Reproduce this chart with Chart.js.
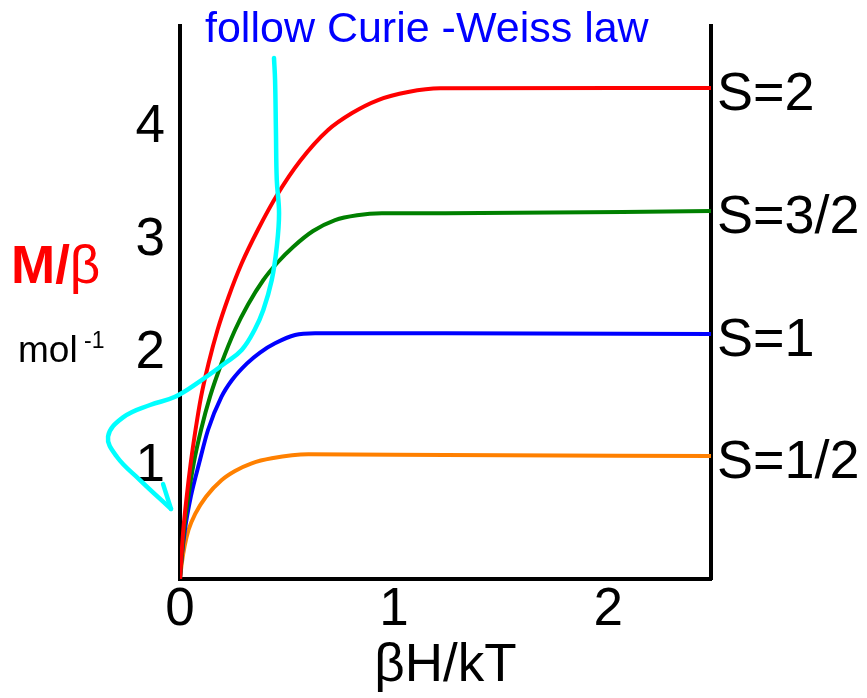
<!DOCTYPE html>
<html>
<head>
<meta charset="utf-8">
<script src="https://cdn.jsdelivr.net/npm/chart.js@4.4.1/dist/chart.umd.min.js"></script>
<style>
  html, body { margin: 0; padding: 0; background: #fff; }
  #chart { display: block; }
</style>
</head>
<body>
<canvas id="chart" width="867" height="698"></canvas>
<script>
// Данные: x = βH/kT, y = M/β
let xTicks = [0, 1, 2];
let yTicks = [1, 2, 3, 4];
let seriesNames = ['S=2', 'S=3/2', 'S=1', 'S=1/2'];
let seriesColors = ['#ff0000', '#008000', '#0000ff', '#ff8000'];

let s2X = [0, 0.0047, 0.0154, 0.0313, 0.05, 0.0724, 0.0981, 0.1332, 0.1752, 0.2266, 0.2883, 0.3645, 0.4533, 0.5607, 0.6916, 0.8037, 0.9252, 1.0654, 1.215, 2.48];
let s2Y = [0, 0.1416, 0.4336, 0.7283, 1.0239, 1.3186, 1.6106, 1.9071, 2.2035, 2.4956, 2.7938, 3.0929, 3.3982, 3.6991, 3.9735, 4.1239, 4.2389, 4.3097, 4.3425, 4.345];

let s32X = [0, 0.0056, 0.0187, 0.0388, 0.064, 0.0981, 0.1402, 0.1939, 0.257, 0.3178, 0.3893, 0.4556, 0.5294, 0.6215, 0.7243, 0.8271, 0.9425, 1.2383, 2.48];
let s32Y = [0, 0.1389, 0.4336, 0.7283, 1.0239, 1.3186, 1.6133, 1.9088, 2.2035, 2.4292, 2.646, 2.8009, 2.9407, 3.0796, 3.177, 3.2195, 3.2363, 3.2363, 3.2566];

let s1X = [0, 0.0051, 0.0229, 0.0505, 0.0893, 0.1308, 0.1939, 0.243, 0.3131, 0.3738, 0.4439, 0.5374, 0.6308, 1.2383, 2.48];
let s1Y = [0, 0.1389, 0.4336, 0.7283, 1.0239, 1.3186, 1.6133, 1.7611, 1.9088, 2.0044, 2.0858, 2.1593, 2.1743, 2.1743, 2.1681];

let s12X = [0, 0.0084, 0.021, 0.0397, 0.0724, 0.1215, 0.1949, 0.257, 0.335, 0.4285, 0.5995, 1.2383, 2.48];
let s12Y = [0, 0.1389, 0.2858, 0.4336, 0.5814, 0.7283, 0.8761, 0.9558, 1.0239, 1.0681, 1.1035, 1.0973, 1.0885];

// голубая стрелка "follow Curie -Weiss law"
let curieX = [0.439, 0.444, 0.448, 0.452, 0.4626, 0.452, 0.4285, 0.389, 0.348, 0.288, 0.21, 0.101, -0.023, -0.14, -0.266, -0.336, -0.294, -0.187, -0.042];
let curieY = [4.611, 4.416, 3.973, 3.531, 3.236, 2.941, 2.646, 2.381, 2.204, 2.027, 1.909, 1.761, 1.613, 1.54, 1.43, 1.26, 1.08, 0.876, 0.62];
let arrowHeadX = [-0.042, -0.079];
let arrowHeadY = [0.62, 0.84];

let seriesX = [s2X, s32X, s1X, s12X];
let seriesY = [s2Y, s32Y, s1Y, s12Y];

let fontFamily = '"Liberation Sans", Arial, sans-serif';

let toPoints = (xs, ys) => xs.map((x, i) => ({x: x, y: ys[i]}));

let datasets = [
  {
    data: toPoints(curieX, curieY),
    borderColor: '#00ffff',
    borderWidth: 4.5,
    tension: 0.4,
    borderCapStyle: 'round',
    borderJoinStyle: 'round',
    clip: false
  },
  {
    data: toPoints(arrowHeadX, arrowHeadY),
    borderColor: '#00ffff',
    borderWidth: 4.5,
    tension: 0,
    borderCapStyle: 'round',
    clip: false
  }
];
seriesNames.forEach((name, i) => {
  datasets.push({
    label: name,
    data: toPoints(seriesX[i], seriesY[i]),
    borderColor: seriesColors[i],
    borderWidth: 4,
    cubicInterpolationMode: 'monotone'
  });
});

// подписи на графике
let textPlugin = {
  id: 'textPlugin',
  afterDraw(chart) {
    let ctx = chart.ctx;
    let area = chart.chartArea;
    let yScale = chart.scales.y;
    ctx.save();
    ctx.textAlign = 'left';
    ctx.textBaseline = 'alphabetic';

    ctx.fillStyle = '#000';
    ctx.font = '54px ' + fontFamily;
    seriesNames.forEach((name, i) => {
      let ys = seriesY[i];
      ctx.fillText(name, area.right + 6, yScale.getPixelForValue(ys[ys.length - 1]) + 22);
    });

    ctx.fillStyle = '#0000ff';
    ctx.font = '43px ' + fontFamily;
    ctx.fillText('follow Curie -Weiss law', 205, 42);

    // M/ жирным, β обычным
    ctx.fillStyle = '#ff0000';
    ctx.font = 'bold 53px ' + fontFamily;
    ctx.fillText('M/', 11, 283);
    let mw = ctx.measureText('M/').width;
    ctx.font = '53px ' + fontFamily;
    ctx.fillText('β', 11 + mw, 283);

    ctx.fillStyle = '#000';
    ctx.font = '37px ' + fontFamily;
    ctx.fillText('mol', 18, 362);
    ctx.font = '23px ' + fontFamily;
    ctx.fillText('-1', 84, 348);
    ctx.restore();
  }
};

let noGrid = {display: false, drawTicks: false};
let blackBorder = {display: true, color: '#000', width: 4};

let config = {
  type: 'line',
  data: {datasets: datasets},
  options: {
    responsive: false,
    animation: false,
    devicePixelRatio: 1,
    layout: {padding: {top: 26, left: 0, right: 0, bottom: 0}},
    elements: {point: {radius: 0}, line: {fill: false}},
    scales: {
      x: {
        type: 'linear',
        min: 0,
        max: 2.48,
        grid: noGrid,
        border: blackBorder,
        afterBuildTicks: (s) => { s.ticks = xTicks.map(v => ({value: v})); },
        afterFit: (s) => { s.height = 119; s.paddingLeft = 0; s.paddingRight = 0; },
        ticks: {
          color: '#000',
          padding: 0,
          maxRotation: 0,
          font: {family: fontFamily, size: 53}
        },
        title: {
          display: true,
          text: 'βH/kT',
          color: '#000',
          padding: {top: 0, bottom: 0},
          font: {family: fontFamily, size: 53, lineHeight: 1.2}
        }
      },
      y: {
        type: 'linear',
        min: 0,
        max: 4.894,
        grid: noGrid,
        border: blackBorder,
        afterBuildTicks: (s) => { s.ticks = yTicks.map(v => ({value: v})); },
        afterFit: (s) => { s.width = 180; s.paddingTop = 0; s.paddingBottom = 0; },
        ticks: {
          color: '#000',
          padding: 15,
          font: {family: fontFamily, size: 53}
        }
      },
      y2: {
        type: 'linear',
        position: 'right',
        min: 0,
        max: 4.894,
        grid: noGrid,
        border: blackBorder,
        ticks: {display: false},
        afterFit: (s) => { s.width = 156; s.paddingTop = 0; s.paddingBottom = 0; }
      }
    },
    plugins: {
      legend: {display: false},
      tooltip: {enabled: false}
    }
  },
  plugins: [textPlugin]
};

let chart = new Chart(document.getElementById('chart').getContext('2d'), config);
</script>
</body>
</html>
